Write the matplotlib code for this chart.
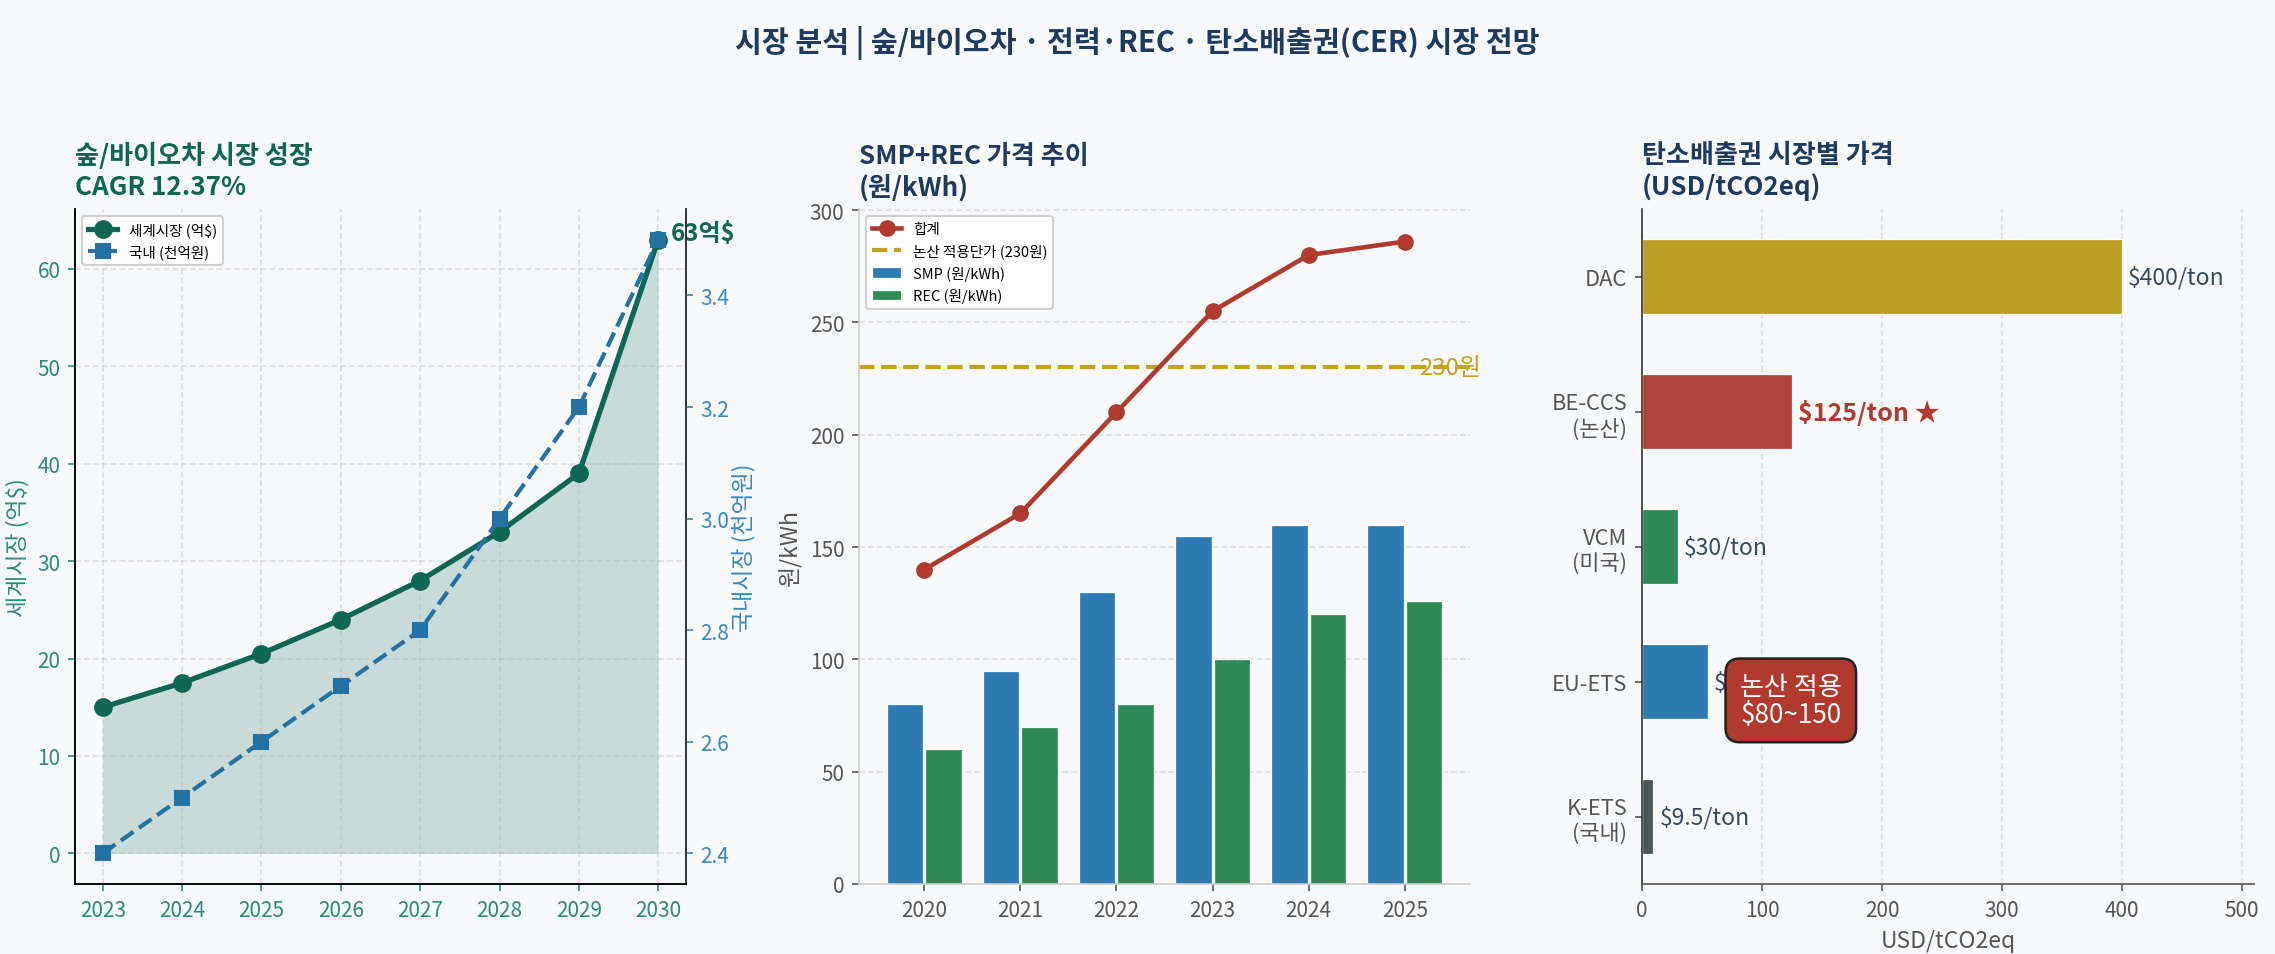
import matplotlib
matplotlib.use("Agg")
import matplotlib.pyplot as plt
import numpy as np

plt.rcParams['font.family'] = ['Noto Sans CJK KR', 'DejaVu Sans']
plt.rcParams['axes.unicode_minus'] = False

# ---------------- data ----------------
years_forest = [2023, 2024, 2025, 2026, 2027, 2028, 2029, 2030]
world_market = [15, 17.5, 20.5, 24, 28, 33, 39, 63]          # 억$
domestic_market = [2.4, 2.5, 2.6, 2.7, 2.8, 3.0, 3.2, 3.5]   # 천억원

years_power = [2020, 2021, 2022, 2023, 2024, 2025]
smp = [80, 95, 130, 155, 160, 160]
rec = [60, 70, 80, 100, 120, 126]
total = [140, 165, 210, 255, 280, 286]
nonsan_price = 230

carbon_markets = ['K-ETS\n(국내)', 'EU-ETS', 'VCM\n(미국)', 'BE-CCS\n(논산)', 'DAC']
carbon_prices = [9.5, 55, 30, 125, 400]
carbon_labels = ['$9.5/ton', '$55/ton', '$30/ton', '$125/ton ★', '$400/ton']

# ---------------- style ----------------
BG = '#f8f9fb'
TEAL = '#0e6655'
TEAL_T = '#2a8c7a'
BLUE = '#2471a3'
BLUE_T = '#3a87c0'
NAVY = '#1f3a5f'
GREY = '#555555'
SMP_C = '#2e7bb4'
REC_C = '#2e8b57'
RED = '#b03a2e'
GOLD = '#c4a11e'
bar_colors = ['#4d5656', '#2e7bb4', '#2e8b57', '#b0443a', '#bd9e24']

W, H, DPI = 2275, 955, 150
fig = plt.figure(figsize=(W / DPI, H / DPI), dpi=DPI, facecolor=BG)

fig.suptitle('시장 분석 | 숲/바이오차 · 전력·REC · 탄소배출권(CER) 시장 전망',
             fontsize=14, fontweight='bold', color=NAVY, y=0.973)

bottom = 1 - 885 / H
height = (885 - 210) / H
width = 611 / W

# ---------------- panel 1 ----------------
ax1 = fig.add_axes([75 / W, bottom, width, height], facecolor=BG)
ax1.fill_between(years_forest, world_market, 0, color=TEAL, alpha=0.2, linewidth=0)
l1, = ax1.plot(years_forest, world_market, '-o', color=TEAL, lw=2.5, ms=8,
               label='세계시장 (억$)', zorder=3)
ax1.set_ylabel('세계시장 (억$)', color=TEAL_T, fontsize=11)
ax1.yaxis.set_label_coords(-0.075, 0.5)
ax1.tick_params(axis='both', colors=TEAL_T, labelsize=10)
ax1.set_xticks(years_forest)
ax1.grid(True, linestyle='--', alpha=0.35)
ax1.annotate('63억$', xy=(years_forest[-1], world_market[-1]), xytext=(6, 3),
             textcoords='offset points', ha='left', va='center',
             fontsize=11.5, fontweight='bold', color=TEAL)
ax1.set_title('숲/바이오차 시장 성장\nCAGR 12.37%', loc='left', fontsize=12.5,
              fontweight='bold', color=TEAL, pad=7)
ax1.spines['top'].set_visible(False)
for s in ['left', 'bottom', 'right']:
    ax1.spines[s].set_color('#333333')

ax2 = ax1.twinx()
l2, = ax2.plot(years_forest, domestic_market, '--s', color=BLUE, lw=2, ms=7,
               label='국내 (천억원)', zorder=3)
ax2.set_ylabel('국내시장 (천억원)', color=BLUE_T, fontsize=11)
ax2.yaxis.set_label_coords(1.075, 0.5)
ax2.tick_params(axis='y', colors=BLUE_T, labelsize=10)
ax2.set_yticks([2.4, 2.6, 2.8, 3.0, 3.2, 3.4])
ax2.spines['top'].set_visible(False)
ax2.spines['right'].set_color('#333333')
ax2.legend(handles=[l1, l2], loc='upper left', fontsize=7, framealpha=0.9,
           edgecolor='#cccccc')

# ---------------- panel 2 ----------------
ax3 = fig.add_axes([859 / W, bottom, width, height], facecolor=BG)
x = np.arange(len(years_power))
ax3.bar(x - 0.2, smp, width=0.38, color=SMP_C, edgecolor='white', linewidth=0.6,
        label='SMP (원/kWh)')
ax3.bar(x + 0.2, rec, width=0.38, color=REC_C, edgecolor='white', linewidth=0.6,
        label='REC (원/kWh)')
ax3.plot(x, total, '-o', color=RED, lw=2.2, ms=7, label='합계', zorder=4)
ax3.axhline(nonsan_price, color=GOLD, lw=2, linestyle='--',
            label='논산 적용단가 (230원)')
ax3.text(5.15, nonsan_price, '230원', color=GOLD, fontsize=11.5, ha='left',
         va='center')
ax3.set_xticks(x)
ax3.set_xticklabels([str(y) for y in years_power])
ax3.set_ylim(0, 300.5)
ax3.set_yticks(np.arange(0, 301, 50))
ax3.set_ylabel('원/kWh', color=GREY, fontsize=11)
ax3.tick_params(colors=GREY, labelsize=10)
ax3.grid(axis='y', linestyle='--', alpha=0.35)
ax3.set_axisbelow(True)
for s in ['top', 'right']:
    ax3.spines[s].set_visible(False)
for s in ['left', 'bottom']:
    ax3.spines[s].set_color('#cccccc')
ax3.set_title('SMP+REC 가격 추이\n(원/kWh)', loc='left', fontsize=12.5,
              fontweight='bold', color=NAVY, pad=7)
ax3.legend(loc='upper left', fontsize=7, framealpha=0.9, edgecolor='#cccccc')

# ---------------- panel 3 ----------------
ax4 = fig.add_axes([1642 / W, bottom, 612 / W, height], facecolor=BG)
yy = np.arange(len(carbon_markets))
ax4.barh(yy, carbon_prices, height=0.55, color=bar_colors, edgecolor='white',
         linewidth=0.6)
for i, (v, lab) in enumerate(zip(carbon_prices, carbon_labels)):
    if '★' in lab:
        ax4.text(v + 5, i, lab, va='center', ha='left', fontsize=12,
                 fontweight='bold', color=RED)
    else:
        ax4.text(v + 5, i, lab, va='center', ha='left', fontsize=11,
                 color='#34495e')
ax4.text(124, 0.86, '논산 적용\n$80~150', ha='center', va='center', fontsize=12.5,
         color='white', linespacing=1.05, zorder=5,
         bbox=dict(boxstyle='round,pad=0.55', facecolor=RED, edgecolor='#222222',
                   linewidth=1.2))
ax4.set_yticks(yy)
ax4.set_yticklabels(carbon_markets)
ax4.set_ylim(-0.5, 4.5)
ax4.set_xlim(0, 510)
ax4.set_xticks(np.arange(0, 501, 100))
ax4.set_xlabel('USD/tCO2eq', color=GREY, fontsize=11)
ax4.tick_params(colors=GREY, labelsize=10)
ax4.tick_params(axis='y', labelsize=10.5)
ax4.grid(axis='x', linestyle='--', alpha=0.35)
ax4.set_axisbelow(True)
for s in ['top', 'right']:
    ax4.spines[s].set_visible(False)
ax4.spines['left'].set_color('#333333')
ax4.spines['bottom'].set_color('#555555')
ax4.set_title('탄소배출권 시장별 가격\n(USD/tCO2eq)', loc='left', fontsize=12.5,
              fontweight='bold', color=NAVY, pad=7)

fig.savefig('out.png', dpi=DPI, facecolor=BG)
